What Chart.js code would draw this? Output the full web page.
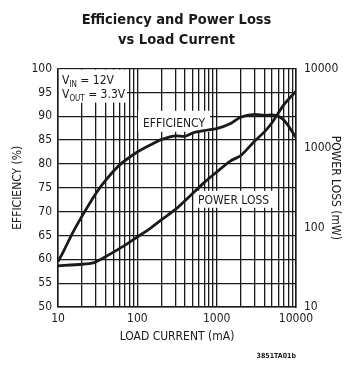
<!DOCTYPE html>
<html lang="en">
<head>
  <meta charset="UTF-8">
  <title>Efficiency and Power Loss vs Load Current</title>
  <style>
    body { margin: 0; background: #fff; }
    canvas { display: block; }
  </style>
  <script src="https://cdn.jsdelivr.net/npm/chart.js"></script>
</head>
<body>
  <canvas id="chart" width="353" height="369"></canvas>
  <script>
    const FONT = "'Liberation Sans Narrow', 'DejaVu Sans Condensed', 'Arial Narrow', sans-serif";
    const INK = '#1a1a1a';

    // efficiency (%) vs load current (mA)
    const effCurrent = [10, 12, 15, 20, 30, 40, 60, 100, 150, 200, 300, 400, 500, 700, 1000, 1500, 2000, 3000, 4000, 5000, 6000, 7000, 8000, 10000];
    const effValues  = [59.5, 62, 65.3, 69, 73.8, 76.6, 79.8, 82.5, 84.1, 85.1, 85.9, 85.8, 86.5, 87, 87.4, 88.5, 89.8, 90.4, 90.2, 90.3, 90.0, 89.2, 88.0, 85.5];

    // power loss (mW) vs load current (mA)
    const lossCurrent = [10, 20, 28, 35, 50, 70, 100, 150, 200, 300, 500, 700, 1000, 1500, 2000, 3000, 4000, 5000, 7000, 10000];
    const lossValues  = [33, 34.5, 36, 40, 49, 60, 76, 100, 125, 168, 270, 370, 500, 690, 800, 1220, 1600, 2100, 3500, 5200];

    const xGridValues = [10, 20, 30, 40, 50, 60, 70, 80, 90, 100, 200, 300, 400, 500, 600, 700, 800, 900,
                         1000, 2000, 3000, 4000, 5000, 6000, 7000, 8000, 9000, 10000];
    const xTickLabels = [10, 100, 1000, 10000];
    const lossTickLabels = [10, 100, 1000, 10000];

    function pts(xs, ys) {
      return xs.map((v, i) => ({ x: v, y: ys[i] }));
    }

    function subText(ctx, x, y, main, sub, rest) {
      ctx.font = '12px ' + FONT;
      ctx.fillText(main, x, y);
      x += ctx.measureText(main).width;
      ctx.font = '8px ' + FONT;
      ctx.fillText(sub, x, y + 3);
      x += ctx.measureText(sub).width;
      ctx.font = '12px ' + FONT;
      ctx.fillText(rest, x, y);
    }

    // labels that sit on white boxes over the grid
    const notes = {
      id: 'notes',
      beforeDatasetsDraw(chart) {
        const { ctx, chartArea: a, scales: { x, y, y2 } } = chart;
        ctx.save();
        ctx.fillStyle = '#fff';
        ctx.fillRect(a.left + 1, a.top + 1, 68, 33);
        ctx.fillStyle = INK;
        ctx.textBaseline = 'alphabetic';
        ctx.textAlign = 'left';
        subText(ctx, a.left + 4, a.top + 15, 'V', 'IN', ' = 12V');
        subText(ctx, a.left + 4, a.top + 29, 'V', 'OUT', ' = 3.3V');

        ctx.font = '12px ' + FONT;
        ctx.textAlign = 'center';
        let cx = x.getPixelForValue(290), by = y.getPixelForValue(87.8);
        let w = ctx.measureText('EFFICIENCY').width + 10;
        ctx.fillStyle = '#fff';
        ctx.fillRect(cx - w / 2, by - 16, w, 21);
        ctx.fillStyle = INK;
        ctx.fillText('EFFICIENCY', cx, by);

        cx = x.getPixelForValue(1630); by = y2.getPixelForValue(199);
        w = ctx.measureText('POWER LOSS').width + 8;
        ctx.fillStyle = '#fff';
        ctx.fillRect(cx - w / 2, by - 13, w, 17);
        ctx.fillStyle = INK;
        ctx.fillText('POWER LOSS', cx, by);
        ctx.restore();
      },
      afterDraw(chart) {
        const { ctx, chartArea: a } = chart;
        ctx.save();
        ctx.fillStyle = INK;
        ctx.font = 'bold 7px ' + FONT;
        ctx.textAlign = 'right';
        ctx.fillText('3851TA01b', a.right, 358);
        ctx.restore();
      }
    };

    new Chart(document.getElementById('chart'), {
      type: 'line',
      data: {
        datasets: [
          {
            label: 'Efficiency',
            data: pts(effCurrent, effValues),
            yAxisID: 'y',
            borderColor: INK,
            borderWidth: 2.8,
            pointRadius: 0,
            tension: 0.25,
            fill: false
          },
          {
            label: 'Power Loss',
            data: pts(lossCurrent, lossValues),
            yAxisID: 'y2',
            borderColor: INK,
            borderWidth: 2.8,
            pointRadius: 0,
            tension: 0.25,
            fill: false
          }
        ]
      },
      options: {
        responsive: false,
        animation: false,
        layout: { padding: 0 },
        plugins: {
          legend: { display: false },
          tooltip: { enabled: false },
          title: {
            display: true,
            text: ['Efficiency and Power Loss', 'vs Load Current'],
            color: INK,
            font: { family: FONT, size: 14.5, weight: 'bold', lineHeight: 1.4 },
            padding: { top: 10, bottom: 18 }
          }
        },
        scales: {
          x: {
            type: 'logarithmic',
            min: 10,
            max: 10000,
            afterBuildTicks: s => { s.ticks = xGridValues.map(v => ({ value: v })); },
            afterFit: s => { s.height = 62; },
            ticks: {
              autoSkip: false,
              maxRotation: 0,
              padding: 5,
              color: INK,
              font: { family: FONT, size: 12 },
              callback: v => xTickLabels.includes(v) ? String(v) : ''
            },
            grid: { color: INK, lineWidth: 1.3, drawTicks: false },
            border: { color: INK, width: 1.5 },
            title: {
              display: true,
              text: 'LOAD CURRENT (mA)',
              color: INK,
              font: { family: FONT, size: 12 },
              padding: { top: 0, bottom: 25 }
            }
          },
          y: {
            position: 'left',
            min: 50,
            max: 100,
            afterFit: s => { s.width = 58; },
            ticks: {
              stepSize: 5,
              padding: 6,
              color: INK,
              font: { family: FONT, size: 12 }
            },
            grid: { color: INK, lineWidth: 1.3, drawTicks: false },
            border: { color: INK, width: 1.5 },
            title: {
              display: true,
              text: 'EFFICIENCY (%)',
              color: INK,
              font: { family: FONT, size: 12 },
              padding: { top: 11, bottom: 0 }
            }
          },
          y2: {
            type: 'logarithmic',
            position: 'right',
            min: 10,
            max: 10000,
            afterBuildTicks: s => { s.ticks = lossTickLabels.map(v => ({ value: v })); },
            afterFit: s => { s.width = 57; },
            ticks: {
              padding: 8,
              color: INK,
              font: { family: FONT, size: 12 },
              callback: v => String(v)
            },
            grid: { display: false, drawTicks: false },
            border: { color: INK, width: 1.5 },
            title: {
              display: true,
              text: 'POWER LOSS (mW)',
              color: INK,
              font: { family: FONT, size: 12 },
              padding: { top: 11, bottom: 0 }
            }
          }
        }
      },
      plugins: [notes]
    });
  </script>
</body>
</html>
